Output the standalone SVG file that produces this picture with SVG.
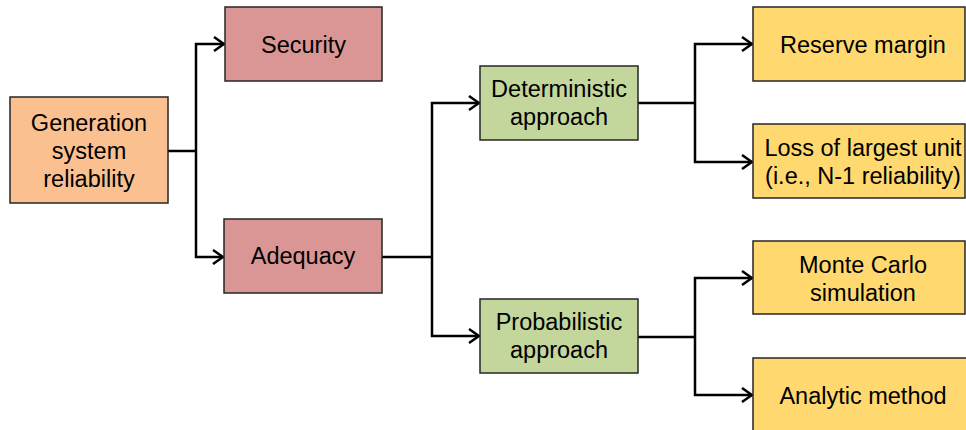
<svg xmlns="http://www.w3.org/2000/svg" width="966" height="430" viewBox="0 0 966 430">
<style>
.box{stroke:#262626;stroke-width:1.5}
.orange{fill:#FAC090}
.red{fill:#D99694}
.green{fill:#C3D69B}
.yellow{fill:#FFD96F}
text{font-family:"Liberation Sans",Arial,sans-serif;font-size:23.5px;fill:#000;text-anchor:middle}
.conn{fill:none;stroke:#000;stroke-width:2.5}
</style>
<defs>
<marker id="arr" viewBox="0 0 12 16" refX="11" refY="8" markerWidth="12" markerHeight="16" markerUnits="userSpaceOnUse" orient="auto">
<path d="M1,1 L11,8 L1,15" fill="none" stroke="#000" stroke-width="2.5"/>
</marker>
</defs>
<g id="connectors">
<path class="conn" d="M168,151 H196"/>
<path class="conn" d="M196,151 V44 H224" marker-end="url(#arr)"/>
<path class="conn" d="M196,151 V257 H223" marker-end="url(#arr)"/>
<path class="conn" d="M382,257 H432"/>
<path class="conn" d="M432,257 V103 H479" marker-end="url(#arr)"/>
<path class="conn" d="M432,257 V336 H479" marker-end="url(#arr)"/>
<path class="conn" d="M638,103 H695"/>
<path class="conn" d="M695,103 V44 H752" marker-end="url(#arr)"/>
<path class="conn" d="M695,103 V162 H752" marker-end="url(#arr)"/>
<path class="conn" d="M638,337 H695"/>
<path class="conn" d="M695,337 V278 H752" marker-end="url(#arr)"/>
<path class="conn" d="M695,337 V395 H752" marker-end="url(#arr)"/>
</g>
<g id="generation">
<rect class="box orange" x="10" y="97" width="158" height="106"/>
<text x="89" y="131">Generation</text>
<text x="89" y="159">system</text>
<text x="89" y="187">reliability</text>
</g>
<g id="security">
<rect class="box red" x="225" y="7" width="157" height="74"/>
<text x="303.5" y="53">Security</text>
</g>
<g id="adequacy">
<rect class="box red" x="224" y="219" width="158" height="74"/>
<text x="303" y="264">Adequacy</text>
</g>
<g id="deterministic">
<rect class="box green" x="480" y="66" width="158" height="74"/>
<text x="559" y="97">Deterministic</text>
<text x="559" y="125">approach</text>
</g>
<g id="probabilistic">
<rect class="box green" x="480" y="299" width="158" height="74"/>
<text x="559" y="330">Probabilistic</text>
<text x="559" y="358">approach</text>
</g>
<g id="reserve">
<rect class="box yellow" x="753" y="7" width="212" height="74"/>
<text x="863" y="53">Reserve margin</text>
</g>
<g id="loss">
<rect class="box yellow" x="753" y="124" width="212" height="74"/>
<text x="863" y="156">Loss of largest unit</text>
<text x="863" y="184">(i.e., N-1 reliability)</text>
</g>
<g id="montecarlo">
<rect class="box yellow" x="753" y="241" width="212" height="73"/>
<text x="863" y="273">Monte Carlo</text>
<text x="863" y="301">simulation</text>
</g>
<g id="analytic">
<rect class="box yellow" x="753" y="358" width="220" height="80"/>
<text x="863" y="404">Analytic method</text>
</g>
</svg>
